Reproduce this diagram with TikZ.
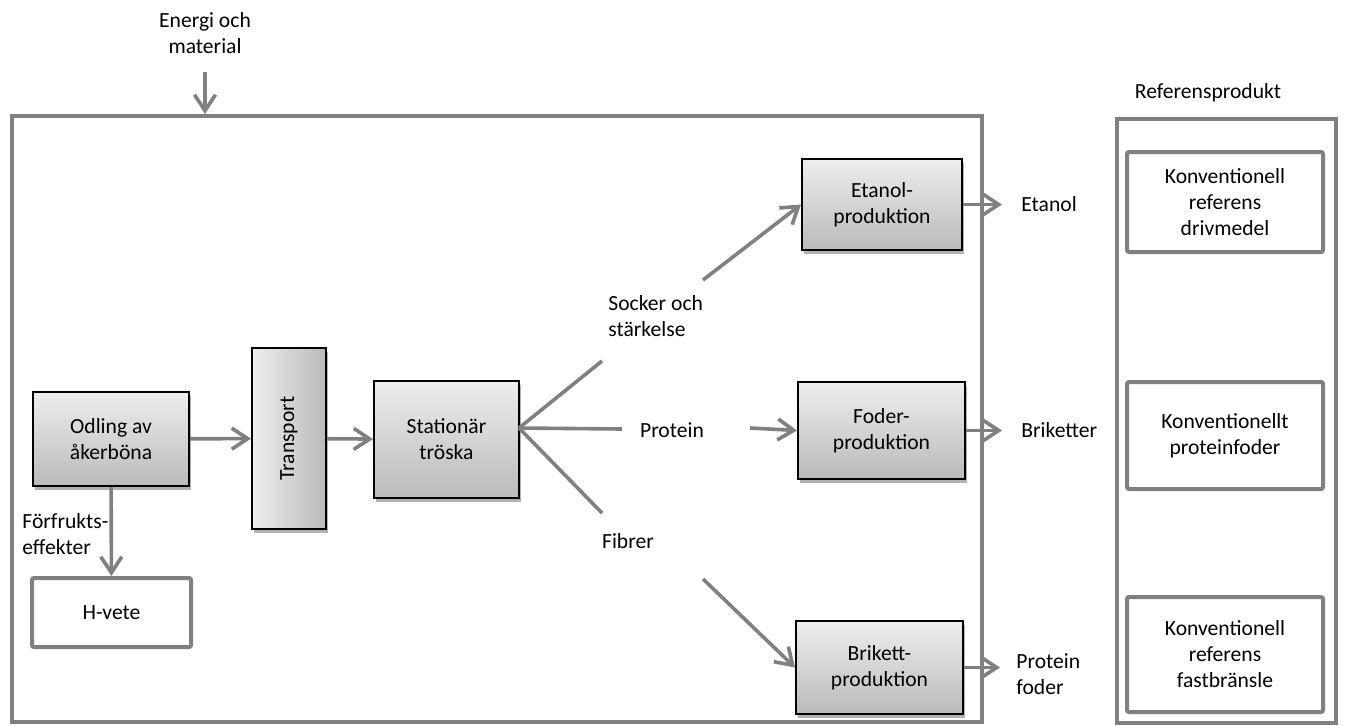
\documentclass[tikz,border=0pt]{standalone}
\usepackage{fontspec}
\setmainfont{Carlito}
\usetikzlibrary{arrows.meta,shadows}

\definecolor{linegray}{RGB}{128,128,128}
\definecolor{boxtop}{RGB}{238,238,238}
\definecolor{boxbottom}{RGB}{186,186,186}

\tikzset{
    every node/.style={font=\fontsize{10.8pt}{13pt}\selectfont},
    proc/.style={draw=black, line width=1pt, top color=boxtop, bottom color=boxbottom, align=center,
        drop shadow={shadow xshift=1pt, shadow yshift=-1.8pt, opacity=0.3, fill=black}},
    frame/.style={draw=linegray, line width=2pt},
    refbox/.style={draw=linegray, line width=2pt, fill=white, align=center, rounded corners=1pt},
    flow/.style={draw=linegray, line width=1.8pt, -{Straight Barb[length=8pt,width=10.5pt]}},
    branch/.style={draw=linegray, line width=1.8pt},
    lbl/.style={align=left, inner sep=0pt},
}

\begin{document}
\begin{tikzpicture}[x=0.5pt, y=-0.5pt]
    \useasboundingbox (0,0) rectangle (1345,725);

    \node[frame, minimum width=485pt, minimum height=303pt] (system) at (497,419) {};
    \node[frame, minimum width=109.5pt, minimum height=302pt] (refsys) at (1226.5,421) {};

    \node[lbl, align=center] (energi) at (205,33) {Energi och\\material};
    \node[lbl] (refhead) at (1208,93) {Referensprodukt};

    \node[proc, minimum width=78pt, minimum height=47pt] (odling) at (111,439) {Odling av\\åkerböna};
    \node[proc, minimum width=37pt, minimum height=90.5pt, top color=boxtop, bottom color=boxtop, left color=boxtop, right color=boxbottom] (transport) at (289,438.5) {\rotatebox{90}{Transport}};
    \node[proc, minimum width=72.5pt, minimum height=58.5pt] (troska) at (446.5,439.5) {Stationär\\tröska};
    \node[refbox, rounded corners=1pt, minimum width=79.5pt, minimum height=34.5pt] (hvete) at (111.5,612.5) {H-vete};

    \node[proc, minimum width=80pt, minimum height=45.5pt] (etanolp) at (882,204.5) {Etanol-\\produktion};
    \node[proc, minimum width=83.5pt, minimum height=48.5pt] (foderp) at (881.5,430.5) {Foder-\\produktion};
    \node[proc, minimum width=83.5pt, minimum height=46.5pt] (brikettp) at (879.5,667.5) {Brikett-\\produktion};

    \node[refbox, minimum width=98pt, minimum height=50pt] (ref1) at (1225,202) {Konventionell\\referens\\drivmedel};
    \node[refbox, minimum width=98pt, minimum height=53.5pt] (ref2) at (1225,435.5) {Konventionellt\\proteinfoder};
    \node[refbox, minimum width=98pt, minimum height=57.5pt] (ref3) at (1225,654.5) {Konventionell\\referens\\fastbränsle};

    % labels on the flows
    \node[lbl, anchor=west] (forfrukt) at (22,534) {Förfrukts-\\effekter};
    \node[lbl, anchor=west] (socker) at (608,316) {Socker och\\stärkelse};
    \node[lbl] (protein) at (672,430) {Protein};
    \node[lbl] (fibrer) at (628,541) {Fibrer};
    \node[lbl, anchor=west] (etanol) at (1021,204) {Etanol};
    \node[lbl, anchor=west] (briketter) at (1021,430) {Briketter};
    \node[lbl, anchor=west] (protfoder) at (1016,674) {Protein\\foder};

    \coordinate (ein) at (205,72);
    \coordinate (fork) at (519,428);
    \coordinate (sockerend) at (602,361);
    \coordinate (proteinend) at (622,429);
    \coordinate (fibrerend) at (602,513);
    \coordinate (sockerstart) at (703,280);
    \coordinate (proteinstart) at (750,428);
    \coordinate (fibrerstart) at (703,579);
    \coordinate (etanolend) at (1002,204.5);
    \coordinate (briketterend) at (1002,430.5);
    \coordinate (protfoderend) at (1000,667.5);

    \draw[flow] (ein) -- (ein |- system.north);
    \draw[flow] (odling) -- (transport);
    \draw[flow] (transport) -- (troska);
    \draw[flow] (odling) -- (hvete);

    \draw[branch] (fork) -- (sockerend);
    \draw[branch] (fork) -- (proteinend);
    \draw[branch] (fork) -- (fibrerend);
    \draw[flow] (sockerstart) -- (etanolp.west);
    \draw[flow] (proteinstart) -- (foderp.west);
    \draw[flow] (fibrerstart) -- (brikettp.west);

    \draw[flow] (etanolp) -- (etanolend);
    \draw[flow] (foderp) -- (briketterend);
    \draw[flow] (brikettp) -- (protfoderend);
\end{tikzpicture}
\end{document}
